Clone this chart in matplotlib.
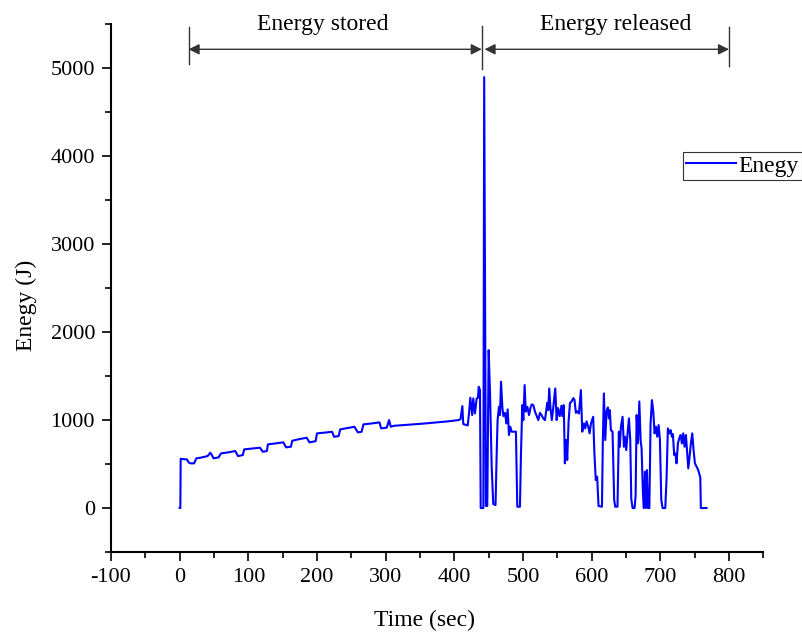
import matplotlib
matplotlib.use("Agg")
import matplotlib.pyplot as plt
from matplotlib.ticker import MultipleLocator

plt.rcParams['font.family'] = ['Liberation Serif', 'DejaVu Serif']
plt.rcParams['axes.unicode_minus'] = False

# energy curve (time in s, energy in J)
time_s = [
    0, 1, 1.5, 3.4, 10.7, 13, 15.6, 21, 24.3, 30, 35, 40.7, 44.7, 47, 49.5,
    56.7, 60.2, 70, 81, 85, 92, 94, 105, 117, 121, 127, 128.5, 140, 151, 155,
    162, 164, 175, 185, 189, 198, 200, 212, 222, 225, 231.6, 233.7, 245, 254.6,
    259.5, 265, 267.7, 280, 291, 293.4, 301.5, 305, 307.5, 312, 326, 340, 355,
    374, 390, 406, 409, 411.7, 413, 419.5, 421.4, 423.3, 426, 427.6, 430,
    432.6, 434.5, 435.5, 437.4, 438.4, 442.3, 443.5, 446, 448, 450, 452,
    454.4, 456.7, 460, 461.7, 463, 465, 466.5, 468, 470, 471.5, 473.9, 475.7,
    477.7, 479.6, 481.5, 483.5, 489.7, 491.7, 495.6, 497, 499, 500.5, 502.4,
    504, 506.4, 508.8, 511.3, 512.7, 515, 517.5, 520, 522.3, 524.7, 527,
    529.5, 532, 533.4, 535.3, 536.8, 538.2, 540, 542, 544, 547, 549, 551,
    553.5, 556, 557.4, 559.4, 561, 563, 564.4, 566.4, 568.4, 570.8, 573.3,
    575, 577, 579, 581.5, 584.3, 586.3, 588.7, 590.6, 592.6, 595, 597, 599,
    602.2, 604, 606, 608, 610, 615, 616.3, 617.8, 619.8, 621.7, 623.6, 625.1,
    626.5, 628, 630.4, 632.8, 634.3, 637.6, 639.6, 641, 642.6, 645, 647,
    648.4, 650.4, 652.3, 654.3, 656.2, 657.7, 659.6, 662.5, 664, 665.5, 667.4,
    669.4, 671.3, 672.7, 674.7, 676, 677.6, 679, 680.5, 682, 684, 685.8,
    687.8, 689.7, 691.6, 693.6, 695.5, 697.5, 699.4, 701.4, 703.3, 707.2, 709,
    711, 713, 715, 716.8, 718.3, 720.2, 722, 723.6, 725.6, 727.5, 729.5,
    731.4, 733.4, 735.3, 737.3, 739.2, 740.7, 742.6, 744.5, 746.5, 748.4,
    750.4, 755.2, 758.2, 759, 767.3,
]
energy_j = [
    0, 0, 560, 557, 553, 520, 508, 508, 565, 572, 580, 591, 629, 600, 565,
    576, 621, 632, 648, 591, 602, 667, 676, 686, 640, 648, 724, 735, 747, 690,
    697, 765, 785, 799, 747, 760, 849, 858, 867, 810, 818, 894, 910, 924,
    860, 867, 951, 962, 974, 906, 913, 1000, 924, 935, 943, 952, 960,
    974, 985, 1000, 1010, 1159, 955, 939, 1076, 1254, 1057, 1246, 1076,
    1246, 1254, 1379, 1341, 0, 0, 4900, 23, 23, 1795, 1303,
    470, 45, 34, 621, 1000, 1151, 1057, 1436, 1136, 1045, 1082, 962,
    1121, 830, 925, 868, 868, 15, 15, 602, 1170, 1000, 1398,
    1096, 1151, 1057, 1151, 1178, 1170, 1096, 1045, 1000, 1082, 1057,
    1019, 1000, 1082, 1197, 1113, 1360, 1136, 1000, 1136, 1360, 1000, 1136,
    1045, 1163, 1045, 1170, 508, 773, 546, 985, 1193, 1212, 1250,
    1231, 1082, 1100, 1075, 1341, 868, 962, 905, 985, 925, 849, 962,
    1038, 621, 318, 356, 23, 15, 773, 1303, 773, 1100, 1144, 1019,
    1113, 886, 868, 91, 15, 15, 868, 697, 925, 1038, 697,
    811, 659, 849, 1019, 773, 102, 0, 0, 140, 1057, 735,
    1212, 773, 678, 159, 0, 413, 0, 432, 0, 0, 962,
    1227, 1100, 849, 925, 811, 943, 780, 91, 0, 0, 318,
    905, 849, 886, 811, 840, 602, 621, 508, 735, 792, 830,
    735, 849, 697, 830, 621, 451, 584, 735, 849, 659,
    508, 432, 348, 0, 0,
]

# phase markers on top
phase_names = ["Energy stored", "Energy released"]
phase_bounds = [13, 440, 800]

fig = plt.figure(figsize=(8.03, 6.35), dpi=100)
ax = fig.add_axes([0.1382, 0.1307, 0.8124, 0.831])

ax.plot(time_s, energy_j, color="#0000FF", lw=1.5, label="Enegy")

ax.set_xlim(-100, 850)
ax.set_ylim(-500, 5500)
ax.xaxis.set_major_locator(MultipleLocator(100))
ax.xaxis.set_minor_locator(MultipleLocator(50))
ax.yaxis.set_major_locator(MultipleLocator(1000))
ax.yaxis.set_minor_locator(MultipleLocator(500))
ax.spines["top"].set_visible(False)
ax.spines["right"].set_visible(False)
for s in ("left", "bottom"):
    ax.spines[s].set_linewidth(1.5)
ax.tick_params(which="major", direction="out", length=6.5, width=1.2, labelsize=16)
ax.tick_params(which="minor", direction="out", length=4, width=1.2)
ax.tick_params(axis="y", which="major", pad=5)
ax.tick_params(axis="x", which="major", pad=5)

ax.set_xlabel("Time (sec)", fontsize=17, va="center")
ax.set_ylabel("Enegy (J)", fontsize=17, va="center")
ax.xaxis.set_label_coords(0.48, -0.129)
ax.yaxis.set_label_coords(-0.13, 0.468)

# arrows with end bars
ann_col = "#333333"
ax.plot([phase_bounds[0]] * 2, [5053, 5466], color=ann_col, lw=1, clip_on=False)
ax.plot([phase_bounds[1]] * 2, [4989, 5485], color=ann_col, lw=1, clip_on=False)
ax.plot([phase_bounds[2]] * 2, [5030, 5466], color=ann_col, lw=1, clip_on=False)
arrow_y = 5216
ax.annotate("", xy=(phase_bounds[1], arrow_y), xytext=(phase_bounds[0], arrow_y),
            arrowprops=dict(arrowstyle="<|-|>", color=ann_col, lw=1,
                            shrinkA=0, shrinkB=0, mutation_scale=16))
ax.annotate("", xy=(phase_bounds[2], arrow_y), xytext=(phase_bounds[1] + 4, arrow_y),
            arrowprops=dict(arrowstyle="<|-|>", color=ann_col, lw=1,
                            shrinkA=0, shrinkB=0, mutation_scale=16))
ax.text(209, 5500, phase_names[0], fontsize=17, ha="center", va="center")
ax.text(635, 5500, phase_names[1], fontsize=17, ha="center", va="center")

leg = ax.legend(loc="center right", bbox_to_anchor=(802 / 803, 1 - 166 / 635),
                bbox_transform=fig.transFigure, fontsize=17, frameon=True,
                fancybox=False, borderpad=0.15, borderaxespad=0, handlelength=2.1,
                handletextpad=0.1)
leg.get_frame().set_edgecolor("black")
leg.get_frame().set_linewidth(0.8)

fig.savefig("out.png", dpi=100)
